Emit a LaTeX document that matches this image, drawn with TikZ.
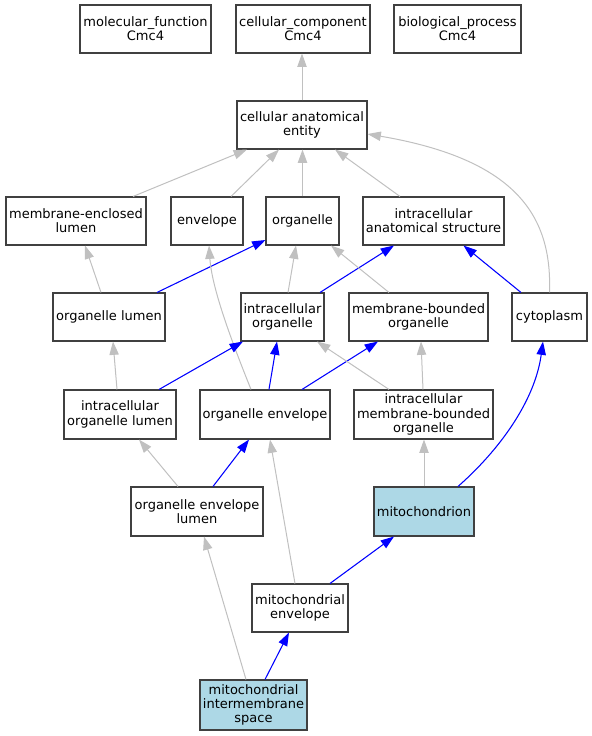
\documentclass[tikz,border=0pt]{standalone}
\usepackage{fontspec}
\setmainfont{DejaVu Sans}
\usetikzlibrary{arrows.meta,calc}
\definecolor{edgegray}{HTML}{C0C0C0}
\definecolor{nodefill}{HTML}{ADD8E6}
\definecolor{bordercol}{HTML}{404040}
\begin{document}
\begin{tikzpicture}[x=0.75pt,y=-0.75pt,
  gobox/.style={draw=bordercol, line width=0.8pt, fill=white, inner sep=0pt, align=center,
    font=\fontsize{9.75}{10.7}\selectfont},
  hl/.style={fill=nodefill},
  isa/.style={draw=edgegray, line width=0.75pt, -{Triangle[length=10pt,width=7pt]}},
  partof/.style={draw=blue, line width=0.8pt, -{Triangle[length=10pt,width=7pt]}}]
\useasboundingbox (0,0) rectangle (592,736);
% nodes
\node[gobox, minimum width=98.25pt, minimum height=36pt] (mf) at (145.5,29) {molecular\_function\\Cmc4};
\node[gobox, minimum width=100.5pt, minimum height=36pt] (cc) at (303,29) {cellular\_component\\Cmc4};
\node[gobox, minimum width=95.25pt, minimum height=36pt] (bp) at (457.5,29) {biological\_process\\Cmc4};
\node[gobox, minimum width=97.5pt, minimum height=36pt] (cae) at (302,125) {cellular anatomical\\entity};
\node[gobox, minimum width=105pt, minimum height=36pt] (mel) at (76,221) {membrane-enclosed\\lumen};
\node[gobox, minimum width=54pt, minimum height=36pt] (env) at (207,221) {envelope};
\node[gobox, minimum width=54.75pt, minimum height=36pt] (org) at (302.5,221) {organelle};
\node[gobox, minimum width=105.75pt, minimum height=36pt] (ias) at (433.5,221) {intracellular\\anatomical structure};
\node[gobox, minimum width=84pt, minimum height=36pt] (ol) at (109,317) {organelle lumen};
\node[gobox, minimum width=62.25pt, minimum height=36pt] (io) at (282.5,317) {intracellular\\organelle};
\node[gobox, minimum width=104.25pt, minimum height=36pt] (mbo) at (418.5,317) {membrane-bounded\\organelle};
\node[gobox, minimum width=56.25pt, minimum height=36pt] (cyto) at (549.5,317) {cytoplasm};
\node[gobox, minimum width=84pt, minimum height=36.75pt] (iol) at (120,414.5) {intracellular\\organelle lumen};
\node[gobox, minimum width=97.5pt, minimum height=36.75pt] (oe) at (265,414.5) {organelle envelope};
\node[gobox, minimum width=104.25pt, minimum height=36.75pt] (imbo) at (423.5,414.5) {intracellular\\membrane-bounded\\organelle};
\node[gobox, minimum width=99pt, minimum height=36.75pt] (oel) at (197,511.5) {organelle envelope\\lumen};
\node[gobox, hl, minimum width=75pt, minimum height=36.75pt] (mito) at (424,511.5) {mitochondrion};
\node[gobox, minimum width=72pt, minimum height=36pt] (me) at (300,608) {mitochondrial\\envelope};
\node[gobox, hl, minimum width=80.25pt, minimum height=37.5pt] (mis) at (253.5,705) {mitochondrial\\intermembrane\\space};
% edges
\draw[isa] (cae.north) -- (cae.north |- cc.south);
\draw[isa] ($(mel.north)+(57,0)$) -- ($(cae.south)+(-55,0)$);
\draw[isa] ($(env.north)+(24,0)$) -- ($(cae.south)+(-23,0)$);
\draw[isa] (org.north) -- (org.north |- cae.south);
\draw[isa] ($(ias.north)+(-33.5,0)$) -- ($(cae.south)+(33,0)$);
\draw[isa] (cyto.north) .. controls ($(cyto.north)+(2.5,-73)$) and ($(cae.east)+(153,35)$) .. ($(cae.east)+(0,9)$);
\draw[isa] ($(ol.north)+(-8,0)$) -- ($(mel.south)+(9,0)$);
\draw[partof] ($(ol.north)+(48,0)$) -- ($(org.west)+(0,19)$);
\draw[isa] ($(oe.north)+(-14,0)$) .. controls ($(oe.north)+(-30,-40)$) and ($(env.south)+(5,45)$) .. ($(env.south)+(2,0)$);
\draw[isa] ($(io.north)+(5.5,0)$) -- ($(org.south)+(-6.5,0)$);
\draw[partof] ($(io.north)+(37.5,0)$) -- ($(ias.south)+(-39.5,0)$);
\draw[isa] ($(mbo.north)+(-29.5,0)$) -- ($(org.south)+(28.5,0)$);
\draw[partof] ($(cyto.north)+(-28.5,0)$) -- ($(ias.south)+(30,0)$);
\draw[isa] ($(iol.north)+(-3,0)$) -- ($(ol.south)+(4,0)$);
\draw[partof] ($(iol.north)+(39,0)$) -- ($(io.south)+(-39.5,0)$);
\draw[partof] ($(oe.north)+(4,0)$) -- ($(io.south)+(-5.5,0)$);
\draw[partof] ($(oe.north)+(37,0)$) -- ($(mbo.south)+(-40.5,0)$);
\draw[isa] ($(imbo.north)+(-34.5,0)$) -- ($(io.south)+(34.5,0)$);
\draw[isa] ($(imbo.north)+(-0.5,0)$) -- ($(mbo.south)+(2.5,0)$);
\draw[isa] ($(oel.north)+(-19,0)$) -- ($(iol.south)+(19,0)$);
\draw[partof] ($(oel.north)+(16,0)$) -- ($(oe.south)+(-16,0)$);
\draw[isa] (mito.north) -- (mito.north |- imbo.south);
\draw[partof] ($(mito.north)+(34,0)$) .. controls ($(mito.north)+(76,-37)$) and ($(cyto.south)+(-14.5,59)$) .. ($(cyto.south)+(-6.5,0)$);
\draw[isa] ($(me.north)+(-5,0)$) -- ($(oe.south)+(5,0)$);
\draw[partof] ($(me.north)+(30,0)$) -- ($(mito.south)+(-30,0)$);
\draw[isa] ($(mis.north)+(-7.5,0)$) -- ($(oel.south)+(7,0)$);
\draw[partof] ($(mis.north)+(11.5,0)$) -- ($(me.south)+(-11,0)$);
\end{tikzpicture}
\end{document}
